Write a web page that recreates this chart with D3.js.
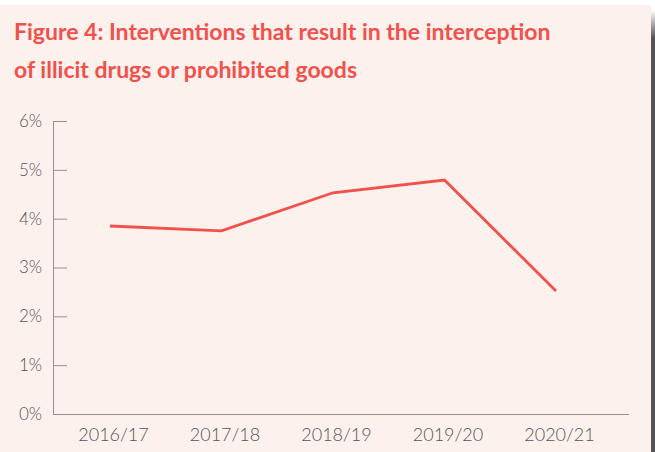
<!DOCTYPE html>
<html>
<head>
<meta charset="utf-8">
<script src="https://cdn.jsdelivr.net/npm/d3@7"></script>
<style>
  body { margin: 0; background: #fff; }
  svg { display: block; }
</style>
</head>
<body>
<div id="chart"></div>
<script>
// data
const years = ['2016/17', '2017/18', '2018/19', '2019/20', '2020/21']
const rates = [3.85, 3.75, 4.53, 4.79, 2.52]
const yTicks = [0, 1, 2, 3, 4, 5, 6]
const titleLines = ['Figure 4: Interventions that result in the interception', 'of illicit drugs or prohibited goods']

const width = 655
const height = 452
const red = '#f2504a'
const axisGrey = '#9a9090'
const textGrey = '#555'

const svg = d3.select('#chart').append('svg')
    .attr('width', width)
    .attr('height', height)

// page edge: white strip on top, dark border on the right
const defs = svg.append('defs')
const grad = defs.append('linearGradient')
    .attr('id', 'edge').attr('x1', 0).attr('y1', 0).attr('x2', 0).attr('y2', 1)
grad.append('stop').attr('offset', '0%').attr('stop-color', '#fff')
grad.append('stop').attr('offset', '100%').attr('stop-color', '#555')

svg.append('rect').attr('x', 0).attr('y', 5).attr('width', 651).attr('height', height - 5).attr('fill', '#fdf1ee')
svg.append('rect').attr('x', 651).attr('y', 10).attr('width', 4).attr('height', 28).attr('fill', 'url(#edge)')
svg.append('rect').attr('x', 651).attr('y', 38).attr('width', 4).attr('height', height - 38).attr('fill', '#555')

// title
svg.append('g').selectAll('text')
    .data(titleLines)
    .enter()
    .append('text')
    .attr('x', 14)
    .attr('y', (d, i) => 40 + i * 38)
    .attr('fill', red)
    .style('font-family', 'Lato, sans-serif')
    .style('font-weight', 700)
    .style('font-size', '23px')
    .text(d => d)

const x = d3.scalePoint()
    .domain(years)
    .range([110, 556])

const y = d3.scaleLinear()
    .domain([0, 6])
    .range([414, 121])

// y axis
const gy = svg.append('g')
    .attr('transform', 'translate(53,0)')
    .call(d3.axisRight(y).tickValues(yTicks).tickSize(14).tickFormat(d => d + '%'))
gy.select('.domain').remove()
gy.selectAll('.tick line').attr('stroke', axisGrey)
gy.selectAll('.tick text')
    .attr('x', -11)
    .attr('text-anchor', 'end')
    .attr('fill', textGrey)
    .style('font-family', 'Lato, sans-serif')
    .style('font-weight', 300)
    .style('font-size', '17px')
svg.append('line')
    .attr('x1', 53.5).attr('x2', 53.5)
    .attr('y1', y(6)).attr('y2', y(0))
    .attr('stroke', axisGrey)

// x axis
const gx = svg.append('g')
    .attr('transform', `translate(0,${y(0)})`)
    .call(d3.axisBottom(x).tickSize(0).tickPadding(14))
gx.select('.domain').remove()
gx.selectAll('.tick text')
    .attr('dx', 3)
    .attr('fill', textGrey)
    .style('font-family', 'Lato, sans-serif')
    .style('font-weight', 300)
    .style('font-size', '18px')
svg.append('line')
    .attr('x1', 53).attr('x2', 629)
    .attr('y1', y(0) + 0.5).attr('y2', y(0) + 0.5)
    .attr('stroke', axisGrey)

// the series
const line = d3.line()
    .x((d, i) => x(years[i]))
    .y(d => y(d))

svg.append('path')
    .datum(rates)
    .attr('d', line)
    .attr('fill', 'none')
    .attr('stroke', red)
    .attr('stroke-width', 2.8)
    .attr('stroke-linejoin', 'miter')
</script>
</body>
</html>
